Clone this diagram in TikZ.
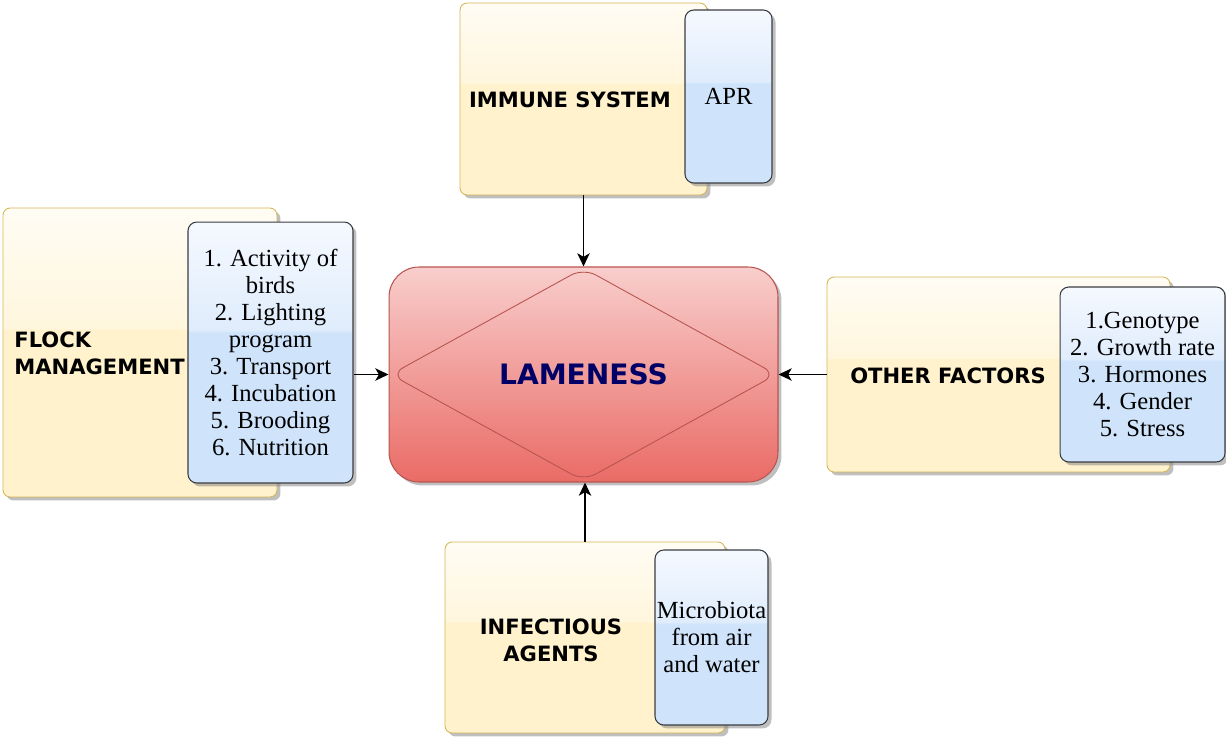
\documentclass[tikz,border=0pt]{standalone}
\usepackage{fontspec}
\setmainfont{Liberation Serif}
\setsansfont{DejaVu Sans}
\usetikzlibrary{shapes,arrows,arrows.meta,shadows}

\definecolor{yelBase}{HTML}{FFF2CC}
\definecolor{yelMid}{HTML}{FFF6DD}
\definecolor{yelTop}{HTML}{FFFCF4}
\definecolor{yelLine}{HTML}{D6B656}
\definecolor{bluBase}{HTML}{CFE4FB}
\definecolor{bluMid}{HTML}{DFECFC}
\definecolor{bluTop}{HTML}{F5F9FF}
\definecolor{bluLine}{HTML}{3A3D42}
\definecolor{redTop}{HTML}{F8CECC}
\definecolor{redBot}{HTML}{EA6B66}
\definecolor{redLine}{HTML}{B85450}
\definecolor{navyTxt}{HTML}{000066}

% glass look: lighter upper part, sharp step to the base colour
\pgfdeclareverticalshading{yellowglass}{100bp}{color(0bp)=(yelBase); color(54bp)=(yelBase); color(54.1bp)=(yelMid); color(75bp)=(yelTop); color(100bp)=(yelTop)}
\pgfdeclareverticalshading{blueglass}{100bp}{color(0bp)=(bluBase); color(54bp)=(bluBase); color(54.1bp)=(bluMid); color(75bp)=(bluTop); color(100bp)=(bluTop)}

\tikzstyle{shadowGR} = [drop shadow={shadow xshift=0.07cm, shadow yshift=-0.07cm, fill=black!50, opacity=0.5}]
\tikzstyle{factorYE} = [rectangle, draw=yelLine, line width=0.5pt, shade, shading=yellowglass, rounded corners=4pt, shadowGR]
\tikzstyle{listBL} = [rectangle, draw=bluLine, line width=0.6pt, shade, shading=blueglass, rounded corners=5pt, shadowGR, align=center, inner sep=0pt, font=\fontsize{14}{15.4}\selectfont]
\tikzstyle{causeRD} = [rectangle, draw=redLine, line width=0.6pt, top color=redTop, bottom color=redBot, rounded corners=0.6cm, shadowGR, text=navyTxt, font=\sffamily\bfseries\fontsize{16}{18}\selectfont]
\tikzstyle{rhombusRD} = [diamond, draw=redLine, line width=0.5pt, rounded corners=8pt, inner sep=0pt]
\tikzstyle{headTX} = [font=\sffamily\bfseries\fontsize{12}{15.4}\selectfont, inner sep=0pt]
\tikzstyle{line} = [draw, -{Stealth[length=7.5pt, width=7pt, inset=2pt]}, line width=1pt]

\begin{document}
\begin{tikzpicture}[x=0.02cm, y=-0.02cm]
  \useasboundingbox (0,0) rectangle (1226,740);

  % centre
  \node [causeRD, minimum width=7.78cm, minimum height=4.3cm] (lameness) at (583.5,374.5) {LAMENESS};
  \node [rhombusRD, minimum width=7.72cm, minimum height=4.26cm] (rhombus) at (583.5,374.5) {};

  % immune system (top)
  \node [factorYE, minimum width=4.94cm, minimum height=3.84cm] (immune) at (583.5,99) {};
  \node [headTX] (immuneTxt) at (570,100) {IMMUNE SYSTEM};
  \node [listBL, minimum width=1.74cm, minimum height=3.46cm] (immuneList) at (728.5,96.5) {APR};

  % flock management (left)
  \node [factorYE, minimum width=5.48cm, minimum height=5.78cm] (flock) at (140,352.5) {};
  \node [headTX, anchor=west, align=left] (flockTxt) at (14,353) {FLOCK\\MANAGEMENT};
  \node [listBL, minimum width=3.3cm, minimum height=5.22cm] (flockList) at (270.5,352.5)
    {1. Activity of\\birds\\2. Lighting\\program\\3. Transport\\4. Incubation\\5. Brooding\\6. Nutrition};

  % other factors (right)
  \node [factorYE, minimum width=6.86cm, minimum height=3.9cm] (other) at (998.5,374.5) {};
  \node [headTX] (otherTxt) at (948,376) {OTHER FACTORS};
  \node [listBL, minimum width=3.3cm, minimum height=3.5cm] (otherList) at (1142.5,374.5)
    {1.Genotype\\2. Growth rate\\3. Hormones\\4. Gender\\5. Stress};

  % infectious agents (bottom)
  \node [factorYE, minimum width=5.6cm, minimum height=3.82cm] (infect) at (585,637.5) {};
  \node [headTX, align=center] (infectTxt) at (551,640) {INFECTIOUS\\AGENTS};
  \node [listBL, minimum width=2.26cm, minimum height=3.5cm] (infectList) at (711.5,637.5)
    {Microbiota\\from air\\and water};

  % edges
  \path [line] (immune.south) -- (lameness.north);
  \path [line] (flockList.east |- lameness) -- (lameness.west);
  \path [line] (other.west) -- (lameness.east);
  \path [line] (infect.north) -- (infect.north |- lameness.south);
\end{tikzpicture}
\end{document}
